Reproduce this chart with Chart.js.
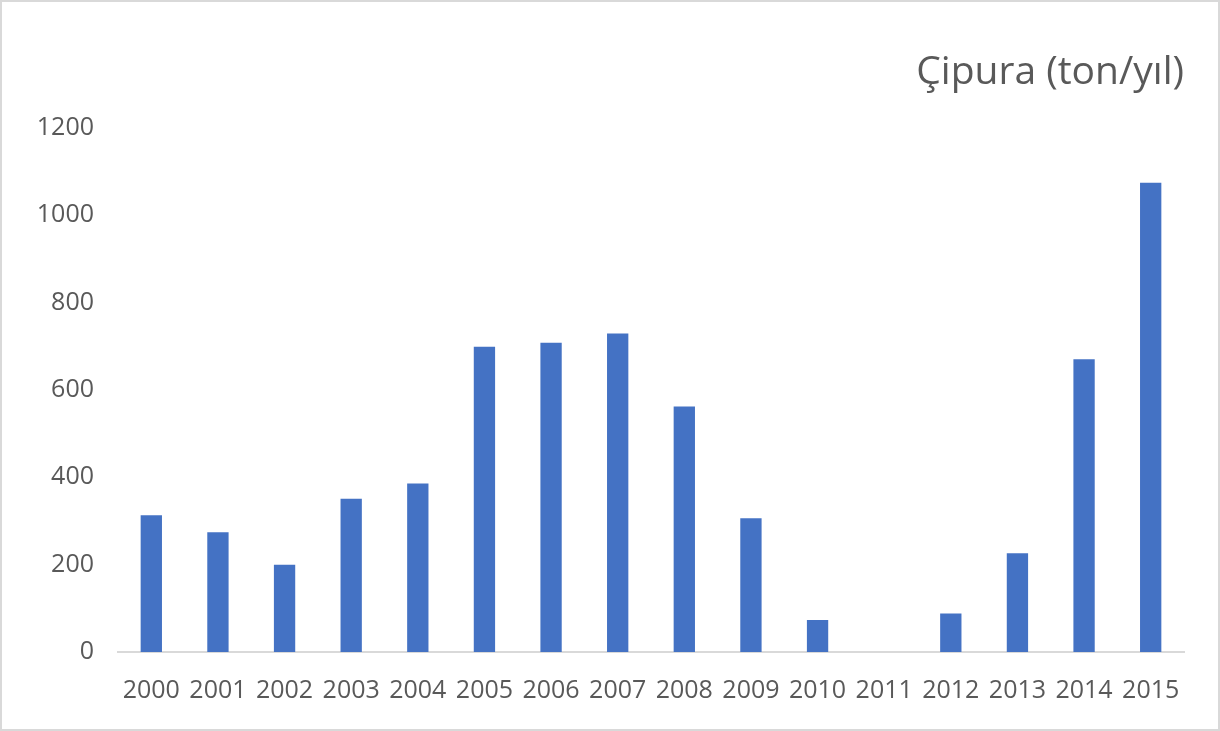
<!DOCTYPE html>
<html>
<head>
<meta charset="utf-8">
<script src="https://cdn.jsdelivr.net/npm/chart.js@4.4.0/dist/chart.umd.min.js"></script>
<style>
  html, body { margin: 0; padding: 0; background: #fff; }
  #kutu { width: 1216px; height: 727px; border: 2px solid #d9d9d9; position: relative; }
  #grafik { display: block; }
</style>
</head>
<body>
<div id="kutu"><canvas id="grafik" width="1216" height="727"></canvas></div>
<script>
// Yıllar ve üretim değerleri (ton/yıl)
const yillar = ['2000','2001','2002','2003','2004','2005','2006','2007','2008','2009','2010','2011','2012','2013','2014','2015'];
const cipura = [313, 274, 200, 351, 386, 699, 708, 729, 562, 306, 73, 0, 88, 226, 670, 1074];
const yEkseni = [0, 200, 400, 600, 800, 1000, 1200];

const yaziRengi = '#595959';

new Chart(document.getElementById('grafik'), {
  type: 'bar',
  data: {
    labels: yillar,
    datasets: [{
      label: 'Çipura (ton/yıl)',
      data: cipura,
      backgroundColor: '#4472C4',
      borderWidth: 0,
      barPercentage: 0.64,
      categoryPercentage: 0.5
    }]
  },
  options: {
    responsive: false,
    animation: false,
    layout: { padding: { left: 0, right: 34, top: 0, bottom: 0 } },
    plugins: {
      legend: { display: false },
      tooltip: { enabled: false },
      title: {
        display: true,
        text: 'Çipura (ton/yıl)',
        align: 'end',
        color: yaziRengi,
        font: { family: 'Open Sans', size: 39, weight: 'normal', lineHeight: 1.2 },
        padding: { top: 47, bottom: 32 }
      }
    },
    scales: {
      x: {
        grid: { display: false, drawTicks: false },
        border: { display: true, color: '#d9d9d9', width: 2 },
        ticks: {
          color: yaziRengi,
          font: { family: 'Open Sans', size: 25 },
          padding: 24,
          maxRotation: 0,
          autoSkip: false
        },
        afterFit: function(s) { s.height = 77; }
      },
      y: {
        min: 0,
        max: 1200,
        grid: { display: false, drawTicks: false },
        border: { display: false },
        afterBuildTicks: function(s) { s.ticks = yEkseni.map(v => ({ value: v })); },
        ticks: {
          color: yaziRengi,
          font: { family: 'Open Sans', size: 25 },
          padding: 24,
          callback: function(v) { return String(v); }
        },
        afterFit: function(s) { s.width = 116; }
      }
    }
  }
});
</script>
</body>
</html>
